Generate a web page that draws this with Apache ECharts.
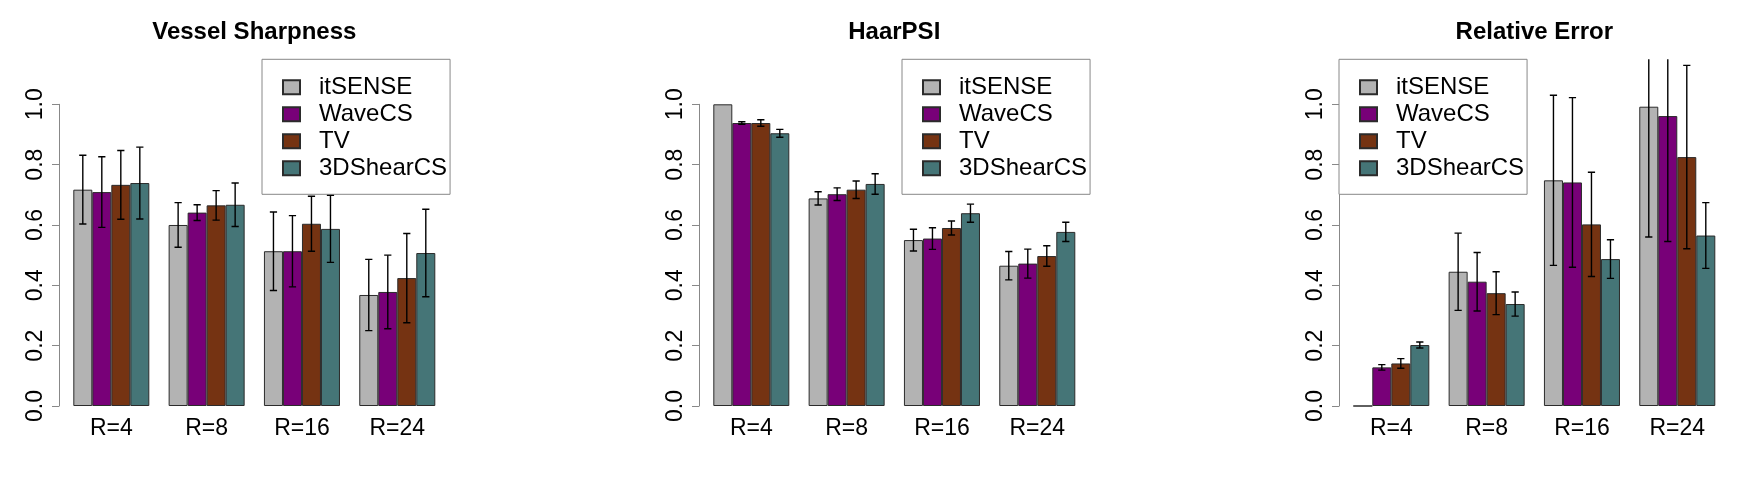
<!DOCTYPE html>
<html>
<head>
<meta charset="utf-8">
<script src="https://cdn.jsdelivr.net/npm/echarts@6/dist/echarts.min.js"></script>
<style>
html,body{margin:0;padding:0;background:#fff;}
#chart{width:1760px;height:480px;}
</style>
</head>
<body>
<div id="chart"></div>
<script>
// ---- data ----
const categories = ['R=4', 'R=8', 'R=16', 'R=24'];
const methods = ['itSENSE', 'WaveCS', 'TV', '3DShearCS'];
const yTicks = [0, 0.2, 0.4, 0.6, 0.8, 1.0];
const panelTitles = ['Vessel Sharpness', 'HaarPSI', 'Relative Error'];

// Vessel Sharpness (mean, sd)
const vsItSENSE = [0.717, 0.600, 0.513, 0.368];
const vsItSENSEsd = [0.114, 0.074, 0.130, 0.118];
const vsWaveCS = [0.709, 0.641, 0.513, 0.378];
const vsWaveCSsd = [0.117, 0.026, 0.118, 0.122];
const vsTV = [0.733, 0.665, 0.604, 0.424];
const vsTVsd = [0.114, 0.049, 0.091, 0.148];
const vsShear = [0.739, 0.667, 0.587, 0.507];
const vsShearsd = [0.119, 0.072, 0.111, 0.145];

// HaarPSI
const hpItSENSE = [1.000, 0.688, 0.550, 0.465];
const hpItSENSEsd = [0, 0.022, 0.036, 0.047];
const hpWaveCS = [0.938, 0.702, 0.555, 0.472];
const hpWaveCSsd = [0.004, 0.021, 0.036, 0.048];
const hpTV = [0.938, 0.717, 0.590, 0.497];
const hpTVsd = [0.011, 0.029, 0.023, 0.034];
const hpShear = [0.904, 0.736, 0.639, 0.577];
const hpShearsd = [0.013, 0.034, 0.030, 0.032];

// Relative Error
const reItSENSE = [0, 0.445, 0.748, 0.992];
const reItSENSEsd = [0, 0.128, 0.282, 0.432];
const reWaveCS = [0.128, 0.412, 0.741, 0.961];
const reWaveCSsd = [0.009, 0.097, 0.281, 0.416];
const reTV = [0.141, 0.374, 0.602, 0.825];
const reTVsd = [0.016, 0.071, 0.173, 0.304];
const reShear = [0.202, 0.338, 0.487, 0.565];
const reShearsd = [0.010, 0.040, 0.064, 0.109];

const panelMeans = [
  [vsItSENSE, vsWaveCS, vsTV, vsShear],
  [hpItSENSE, hpWaveCS, hpTV, hpShear],
  [reItSENSE, reWaveCS, reTV, reShear]
];
const panelSds = [
  [vsItSENSEsd, vsWaveCSsd, vsTVsd, vsShearsd],
  [hpItSENSEsd, hpWaveCSsd, hpTVsd, hpShearsd],
  [reItSENSEsd, reWaveCSsd, reTVsd, reShearsd]
];

// ---- style / layout ----
const colors = ['#b3b3b3', '#780078', '#753312', '#457577'];
const FONT = 'Liberation Sans, Arial, Helvetica, sans-serif';
const panelStep = 640;
const axisX0 = 59;          // y-axis line x for first panel
const dataLeft0 = 63.65;    // category grid left
const dataWidth = 381.3;
const plotTop = 59.3;
const zeroY = 406;
const oneY = 104.3;
const catGap = 0.2025;
const yMaxData = (zeroY - plotTop) / (zeroY - oneY);
const legendLeft = [262, 902, 1339];

const grids = [], xAxes = [], yAxes = [], series = [], titles = [], legends = [];

for (let p = 0; p < 3; p++) {
  const off = p * panelStep;
  // data grid
  grids.push({left: dataLeft0 + off, top: plotTop, width: dataWidth, height: zeroY - plotTop, containLabel: false});
  // axis grid (0..1 only)
  grids.push({left: axisX0 + off, top: oneY, width: 10, height: zeroY - oneY, containLabel: false});
  const gData = 2 * p, gAxis = 2 * p + 1;

  xAxes.push({
    gridIndex: gData, type: 'category', data: categories,
    axisLine: {show: false}, axisTick: {show: false},
    axisLabel: {fontSize: 23, color: '#000', fontFamily: FONT, margin: 11}
  });
  xAxes.push({gridIndex: gAxis, type: 'value', min: 0, max: 1, show: false});

  yAxes.push({gridIndex: gData, type: 'value', min: 0, max: yMaxData, show: false, splitLine: {show: false}});
  yAxes.push({
    gridIndex: gAxis, type: 'value', min: yTicks[0], max: yTicks[yTicks.length - 1], interval: 0.2,
    position: 'left',
    axisLine: {show: true, lineStyle: {color: '#888', width: 1}},
    axisTick: {show: true, length: 7, lineStyle: {color: '#888', width: 1}},
    splitLine: {show: false},
    axisLabel: {rotate: 90, fontSize: 23, color: '#000', fontFamily: FONT, margin: 12,
      formatter: v => v.toFixed(1)}
  });

  titles.push({
    text: panelTitles[p], left: (axisX0 + off + dataLeft0 + off + dataWidth + 4.6) / 2 - 5, top: 15,
    textAlign: 'center',
    textStyle: {fontSize: 24, fontWeight: 'bold', color: '#000', fontFamily: FONT}
  });

  legends.push({
    data: methods, orient: 'vertical', left: legendLeft[p], top: plotTop,
    padding: [16, 3, 14, 20], itemGap: 3, itemWidth: 17, itemHeight: 14, icon: 'rect',
    borderColor: '#888', borderWidth: 1, borderRadius: 0, backgroundColor: '#fff',
    textStyle: {fontSize: 24, color: '#000', fontFamily: FONT, lineHeight: 24, padding: [0, 0, 0, 14]},
    selectedMode: false
  });

  for (let m = 0; m < 4; m++) {
    series.push({
      name: methods[m], type: 'bar', xAxisIndex: gData, yAxisIndex: gData,
      data: panelMeans[p][m], barGap: '0%', barCategoryGap: (catGap * 100) + '%',
      itemStyle: {color: colors[m], borderColor: '#2b2b2b', borderWidth: 1},
      emphasis: {disabled: true}, silent: true, animation: false
    });
  }
  for (let m = 0; m < 4; m++) {
    const mi = m;
    series.push({
      type: 'custom', xAxisIndex: gData, yAxisIndex: gData, clip: true, silent: true, animation: false,
      z: 5,
      data: categories.map((c, i) => [i, panelMeans[p][m][i], panelSds[p][m][i]]),
      encode: {x: 0, y: 1},
      renderItem: function (params, api) {
        const cat = api.value(0), mean = api.value(1), sd = api.value(2);
        if (!(sd > 0)) return null;
        const band = api.size([1, 0])[0];
        const bw = band * (1 - catGap) / 4;
        const cx = api.coord([cat, mean])[0] + (mi - 1.5) * bw;
        const yt = api.coord([cat, mean + sd])[1];
        const yb = api.coord([cat, mean - sd])[1];
        const hw = bw * 0.19;
        const st = {stroke: '#000', lineWidth: 1.4};
        return {type: 'group', children: [
          {type: 'line', shape: {x1: cx, y1: yt, x2: cx, y2: yb}, style: st},
          {type: 'line', shape: {x1: cx - hw, y1: yt, x2: cx + hw, y2: yt}, style: st},
          {type: 'line', shape: {x1: cx - hw, y1: yb, x2: cx + hw, y2: yb}, style: st}
        ]};
      }
    });
  }
}

const chart = echarts.init(document.getElementById('chart'), null, {renderer: 'canvas'});
chart.setOption({
  backgroundColor: '#fff',
  animation: false,
  title: titles,
  legend: legends,
  grid: grids,
  xAxis: xAxes,
  yAxis: yAxes,
  series: series
});
</script>
</body>
</html>
